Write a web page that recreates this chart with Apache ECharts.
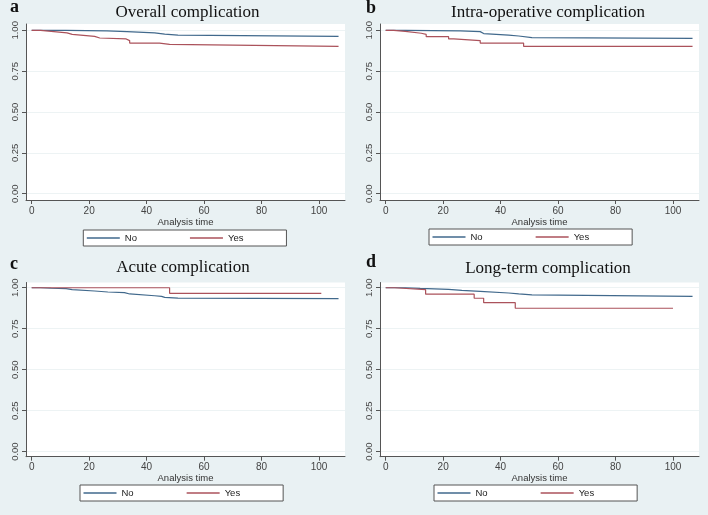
<!DOCTYPE html>
<html>
<head>
<meta charset="utf-8">
<script src="https://cdn.jsdelivr.net/npm/echarts@6/dist/echarts.min.js"></script>
<style>
  html, body { margin: 0; padding: 0; background: #e9f1f3; }
  #main { width: 708px; height: 515px; }
</style>
</head>
<body>
<div id="main"></div>
<script>
// panel titles
var panelLetters = ['a', 'b', 'c', 'd'];
var panelTitles = ['Overall complication', 'Intra-operative complication', 'Acute complication', 'Long-term complication'];
var groupNames = ['No', 'Yes'];
var xTicks = [0, 20, 40, 60, 80, 100];
var yTicks = [0, 0.25, 0.5, 0.75, 1];

// Kaplan-Meier step curves (time, survival)
var aNoTime = [0, 12, 26.2, 33.2, 42.8, 46.3, 50.9, 106.8];
var aNoSurv = [1, 0.996, 0.992, 0.984, 0.977, 0.971, 0.963, 0.963];
var aYesTime = [0, 3.1, 6.8, 12.3, 14.1, 21.9, 23.7, 32.9, 34.1, 44.5, 48, 106.8];
var aYesSurv = [1, 0.994, 0.984, 0.975, 0.963, 0.953, 0.947, 0.937, 0.922, 0.914, 0.902, 0.902];

var bNoTime = [0, 6.8, 26, 32.9, 34.1, 42.8, 46.3, 50.9, 106.8];
var bNoSurv = [1, 0.997, 0.992, 0.98, 0.971, 0.965, 0.955, 0.951, 0.951];
var bYesTime = [0, 2.8, 6.8, 12.4, 14.1, 21.9, 23.7, 32.9, 48, 106.8];
var bYesSurv = [1, 0.994, 0.982, 0.975, 0.961, 0.947, 0.937, 0.922, 0.902, 0.902];

var cNoTime = [0, 3, 6.8, 12, 14.1, 21.9, 26.5, 32.3, 34.1, 42.8, 45.2, 46.3, 50.9, 106.8];
var cNoSurv = [1, 0.997, 0.995, 0.988, 0.98, 0.974, 0.97, 0.962, 0.951, 0.947, 0.941, 0.937, 0.933, 0.933];
var cYesTime = [0, 48, 100.8];
var cYesSurv = [1, 0.966, 0.966];

var dNoTime = [0, 6.8, 12, 21.9, 26.5, 32.9, 42.8, 46.3, 50.9, 106.8];
var dNoSurv = [1, 0.996, 0.99, 0.984, 0.978, 0.968, 0.962, 0.956, 0.947, 0.947];
var dYesTime = [0, 3.1, 13.9, 30.8, 34.1, 45.1, 100];
var dYesSurv = [1, 0.988, 0.961, 0.936, 0.909, 0.875, 0.875];

var curves = [
  [[aNoTime, aNoSurv], [aYesTime, aYesSurv]],
  [[bNoTime, bNoSurv], [bYesTime, bYesSurv]],
  [[cNoTime, cNoSurv], [cYesTime, cYesSurv]],
  [[dNoTime, dNoSurv], [dYesTime, dYesSurv]]
];

var myChart = echarts.init(document.getElementById('main'));

var lineColors = ['#41698c', '#ab525b'];
var grids = [
  { left: 26, top: 24, width: 319, height: 176 },
  { left: 380, top: 24, width: 319, height: 176 },
  { left: 26, top: 282.5, width: 319, height: 174.2 },
  { left: 380, top: 282.5, width: 319, height: 174.2 }
];
var yRanges = [[-0.0386, 1.0386], [-0.0386, 1.0386], [-0.031, 1.032], [-0.031, 1.032]];
var legendPos = [[83.3, 230], [429, 229], [80, 485], [434, 485]];
var titlePos = [[187.5, 12.5], [548, 12.5], [183, 267.5], [548, 268.5]];
var letterPos = [[10, 7.5], [366, 8], [10, 264], [366, 262]];

var xAxes = [], yAxes = [], series = [], legends = [], graphics = [];

grids.forEach(function(g, i) {
  g.show = true;
  g.backgroundColor = '#ffffff';
  g.borderWidth = 0;
  xAxes.push({
    type: 'value',
    gridIndex: i,
    min: -1.98,
    max: 109.05,
    name: 'Analysis time',
    nameLocation: 'middle',
    nameGap: 14,
    nameTextStyle: { fontSize: 9.5, color: '#333', fontFamily: 'Liberation Sans' },
    axisLine: { show: true, onZero: false, lineStyle: { color: '#555', width: 1 } },
    axisTick: { show: true, length: 4, customValues: xTicks, lineStyle: { color: '#555' } },
    axisLabel: { customValues: xTicks, fontSize: 10, margin: 6, color: '#444', fontFamily: 'Liberation Sans' },
    splitLine: { show: false }
  });
  yAxes.push({
    type: 'value',
    gridIndex: i,
    min: yRanges[i][0],
    max: yRanges[i][1],
    axisLine: { show: true, onZero: false, lineStyle: { color: '#555', width: 1 } },
    axisTick: { show: true, length: 4, customValues: yTicks, lineStyle: { color: '#555' } },
    axisLabel: {
      customValues: yTicks,
      rotate: 90,
      fontSize: 9.5,
      margin: 6,
      color: '#444',
      fontFamily: 'Liberation Sans',
      formatter: function(v) { return v.toFixed(2); }
    },
    splitLine: { show: true, lineStyle: { color: '#edf3f4', width: 1 } }
  });
  curves[i].forEach(function(c, k) {
    series.push({
      name: groupNames[k],
      type: 'line',
      xAxisIndex: i,
      yAxisIndex: i,
      step: 'end',
      symbol: 'none',
      data: c[0].map(function(t, j) { return [t, c[1][j]]; }),
      lineStyle: { color: lineColors[k], width: 1.2 },
      itemStyle: { color: lineColors[k] }
    });
  });
  legends.push({
    data: groupNames,
    left: legendPos[i][0],
    top: legendPos[i][1],
    orient: 'horizontal',
    icon: 'rect',
    itemWidth: 33,
    itemHeight: 1.3,
    itemGap: 53,
    padding: [2, 43, 2, 3.5],
    backgroundColor: '#ffffff',
    borderColor: '#555',
    borderWidth: 1,
    borderRadius: 0,
    selectedMode: false,
    textStyle: { fontSize: 9.5, color: '#222', fontFamily: 'Liberation Sans', lineHeight: 12 }
  });
  graphics.push({
    type: 'text',
    x: titlePos[i][0],
    y: titlePos[i][1],
    style: {
      text: panelTitles[i],
      textAlign: 'center',
      textVerticalAlign: 'middle',
      font: '17px "Liberation Serif"',
      fill: '#111'
    }
  });
  graphics.push({
    type: 'text',
    x: letterPos[i][0],
    y: letterPos[i][1],
    style: {
      text: panelLetters[i],
      textAlign: 'left',
      textVerticalAlign: 'middle',
      font: 'bold 18px "Liberation Serif"',
      fill: '#111'
    }
  });
});

option = {
  backgroundColor: '#e9f1f3',
  animation: false,
  grid: grids,
  xAxis: xAxes,
  yAxis: yAxes,
  legend: legends,
  graphic: graphics,
  series: series
};
myChart.setOption(option);
</script>
</body>
</html>
